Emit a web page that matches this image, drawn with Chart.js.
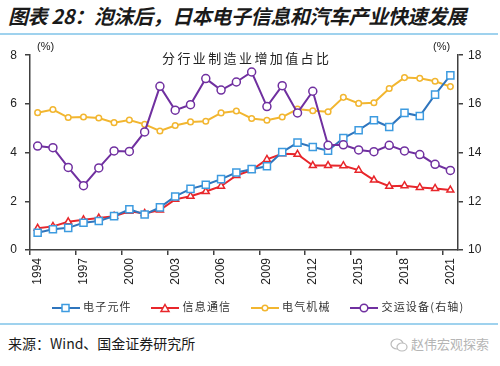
<!DOCTYPE html>
<html>
<head>
<meta charset="utf-8">
<script src="https://cdn.jsdelivr.net/npm/chart.js@4.4.0/dist/chart.umd.min.js"></script>
<style>
  body { margin: 0; width: 500px; height: 366px; background: #fff; position: relative; overflow: hidden;
         font-family: "Noto Sans CJK SC", "Noto Sans", sans-serif; color: #1a1a1a; }
  .title { position: absolute; left: 8px; top: 3px; font-size: 20px; font-weight: bold; font-style: italic;
           letter-spacing: -0.4px; white-space: nowrap; line-height: 26px; }
  .rule { position: absolute; left: 0; width: 498px; height: 2px; background: #9fd2ee; }
  .box { position: absolute; left: 0; top: 40px; width: 500px; height: 260px; }
  .sub { position: absolute; left: 162px; top: 48px; font-size: 13px; letter-spacing: 2.4px; color: #222; white-space: nowrap; }
  .unit { position: absolute; top: 40px; font-family: "Liberation Sans", Arial, sans-serif; font-size: 11px; color: #222; }
  .legend { position: absolute; left: 52px; top: 298px; font-size: 11px; color: #333; white-space: nowrap; letter-spacing: 1.2px; }
  .legend span.it { display: inline-block; margin-right: 16px; }
  .legend svg { vertical-align: middle; margin-right: 3px; }
  .src { position: absolute; left: 8px; top: 333px; font-size: 14px; color: #1a1a1a; white-space: nowrap; }
  .wm { position: absolute; left: 390px; top: 334px; font-size: 13px; color: #b5b5b5; white-space: nowrap; }
  .wm svg { vertical-align: middle; margin-right: 3px; }
</style>
</head>
<body>
<div class="title">图表 28：泡沫后，日本电子信息和汽车产业快速发展</div>
<div class="rule" style="top:33px"></div>
<div class="box"><canvas id="c"></canvas></div>
<div class="sub">分行业制造业增加值占比</div>
<div class="unit" style="left:37px">(%)</div>
<div class="unit" style="left:433px">(%)</div>
<div class="legend">
  <span class="it"><svg width="28" height="10"><line x1="0" y1="5" x2="28" y2="5" stroke="#2f75bd" stroke-width="2"/><rect x="10" y="1.5" width="7" height="7" fill="#fff" stroke="#3d9be0" stroke-width="1.5"/></svg>电子元件</span>
  <span class="it"><svg width="28" height="10"><line x1="0" y1="5" x2="28" y2="5" stroke="#e8262b" stroke-width="2"/><polygon points="14,1.5 18,8.5 10,8.5" fill="#fff" stroke="#e8262b" stroke-width="1.5"/></svg>信息通信</span>
  <span class="it"><svg width="28" height="10"><line x1="0" y1="5" x2="28" y2="5" stroke="#f2b630" stroke-width="2"/><circle cx="14" cy="5" r="2.8" fill="#fff" stroke="#f2b630" stroke-width="1.5"/></svg>电气机械</span>
  <span class="it"><svg width="28" height="10"><line x1="0" y1="5" x2="28" y2="5" stroke="#7030a0" stroke-width="2"/><circle cx="14" cy="5" r="3.8" fill="#fff" stroke="#7030a0" stroke-width="1.5"/></svg>交运设备(右轴)</span>
</div>
<div class="rule" style="top:323px"></div>
<div class="src">来源：Wind、国金证券研究所</div>
<div class="wm"><svg width="18" height="16"><ellipse cx="7" cy="7" rx="6" ry="5" fill="none" stroke="#bbb" stroke-width="1.2"/><ellipse cx="12" cy="10" rx="5" ry="4" fill="#fff" stroke="#bbb" stroke-width="1.2"/></svg>赵伟宏观探索</div>

<script>
// 年份与各行业增加值占比（%）
const years = ['1994','1995','1996','1997','1998','1999','2000','2001','2002','2003','2004','2005','2006','2007',
               '2008','2009','2010','2011','2012','2013','2014','2015','2016','2017','2018','2019','2020','2021'];

const electronics = [0.71,0.85,0.91,1.12,1.19,1.39,1.67,1.46,1.75,2.2,2.51,2.68,2.91,3.18,
                     3.32,3.44,4.02,4.41,4.23,4.08,4.6,4.92,5.33,5.05,5.63,5.5,6.38,7.17];
const telecom = [0.89,0.97,1.16,1.24,1.31,1.39,1.59,1.5,1.64,2.08,2.21,2.4,2.62,3.06,
                 3.28,3.72,3.95,3.93,3.47,3.47,3.46,3.28,2.87,2.62,2.64,2.57,2.53,2.46];
const electrical = [5.64,5.77,5.44,5.46,5.42,5.23,5.34,5.16,4.89,5.11,5.26,5.29,5.63,5.71,
                    5.4,5.33,5.46,5.79,5.72,5.68,6.27,6.02,6.05,6.63,7.08,7.05,6.93,6.71];
// 右轴
const transport = [14.27,14.2,13.39,12.64,13.37,14.07,14.05,14.85,16.72,15.74,15.97,17.04,16.57,16.9,
                   17.31,15.89,16.75,15.63,16.52,14.3,14.32,14.11,14.04,14.3,14.07,13.92,13.52,13.27];

const leftTicks = [0, 2, 4, 6, 8];
const rightTicks = [10, 12, 14, 16, 18];

const axisColor = '#404040';
const tickFont = { family: '"Liberation Sans", Arial, sans-serif', size: 12 };

function serie(label, data, color, markerColor, style, radius, axis) {
    return {
        label, data, yAxisID: axis,
        borderColor: color, borderWidth: 2,
        pointStyle: style, pointRadius: radius, pointBorderWidth: 1.5,
        pointBorderColor: markerColor, pointBackgroundColor: '#fff',
        tension: 0, fill: false
    };
}

new Chart(document.getElementById('c'), {
    type: 'line',
    data: {
        labels: years,
        datasets: [
            serie('交运设备(右轴)', transport, '#7030a0', '#7030a0', 'circle', 4, 'y1'),
            serie('电子元件', electronics, '#2f75bd', '#3d9be0', 'rect', 5, 'y'),
            serie('信息通信', telecom, '#e8262b', '#e8262b', 'triangle', 4, 'y'),
            serie('电气机械', electrical, '#f2b630', '#f2b630', 'circle', 2.8, 'y')
        ]
    },
    options: {
        responsive: true, maintainAspectRatio: false, animation: false,
        layout: { padding: { top: 15, left: 0, right: 0, bottom: 0 } },
        plugins: { legend: { display: false }, tooltip: { enabled: false } },
        scales: {
            x: {
                offset: true,
                grid: {
                    offset: true, drawOnChartArea: false, tickLength: 5, lineWidth: 1.5,
                    color: ctx => (ctx.index % 3 === 0 ? axisColor : 'rgba(0,0,0,0)')
                },
                border: { color: axisColor, width: 1.5 },
                ticks: {
                    autoSkip: false, maxRotation: 90, minRotation: 90, padding: 3,
                    color: '#222', font: tickFont,
                    callback: (v, i) => (i % 3 === 0 ? years[i] : '')
                },
                afterFit: s => { s.height = 50; }
            },
            y: {
                position: 'left', min: 0, max: 8,
                afterBuildTicks: s => { s.ticks = leftTicks.map(v => ({ value: v })); },
                grid: { drawOnChartArea: false, tickLength: 5, color: axisColor, lineWidth: 1.5 },
                border: { color: axisColor, width: 1.5 },
                ticks: { padding: 8, color: '#222', font: tickFont },
                afterFit: s => { s.width = 30; }
            },
            y1: {
                position: 'right', min: 10, max: 18,
                afterBuildTicks: s => { s.ticks = rightTicks.map(v => ({ value: v })); },
                grid: { drawOnChartArea: false, tickLength: 5, color: axisColor, lineWidth: 1.5 },
                border: { color: axisColor, width: 1.5 },
                ticks: { padding: 5, color: '#222', font: tickFont },
                afterFit: s => { s.width = 42; }
            }
        }
    }
});
</script>
</body>
</html>
